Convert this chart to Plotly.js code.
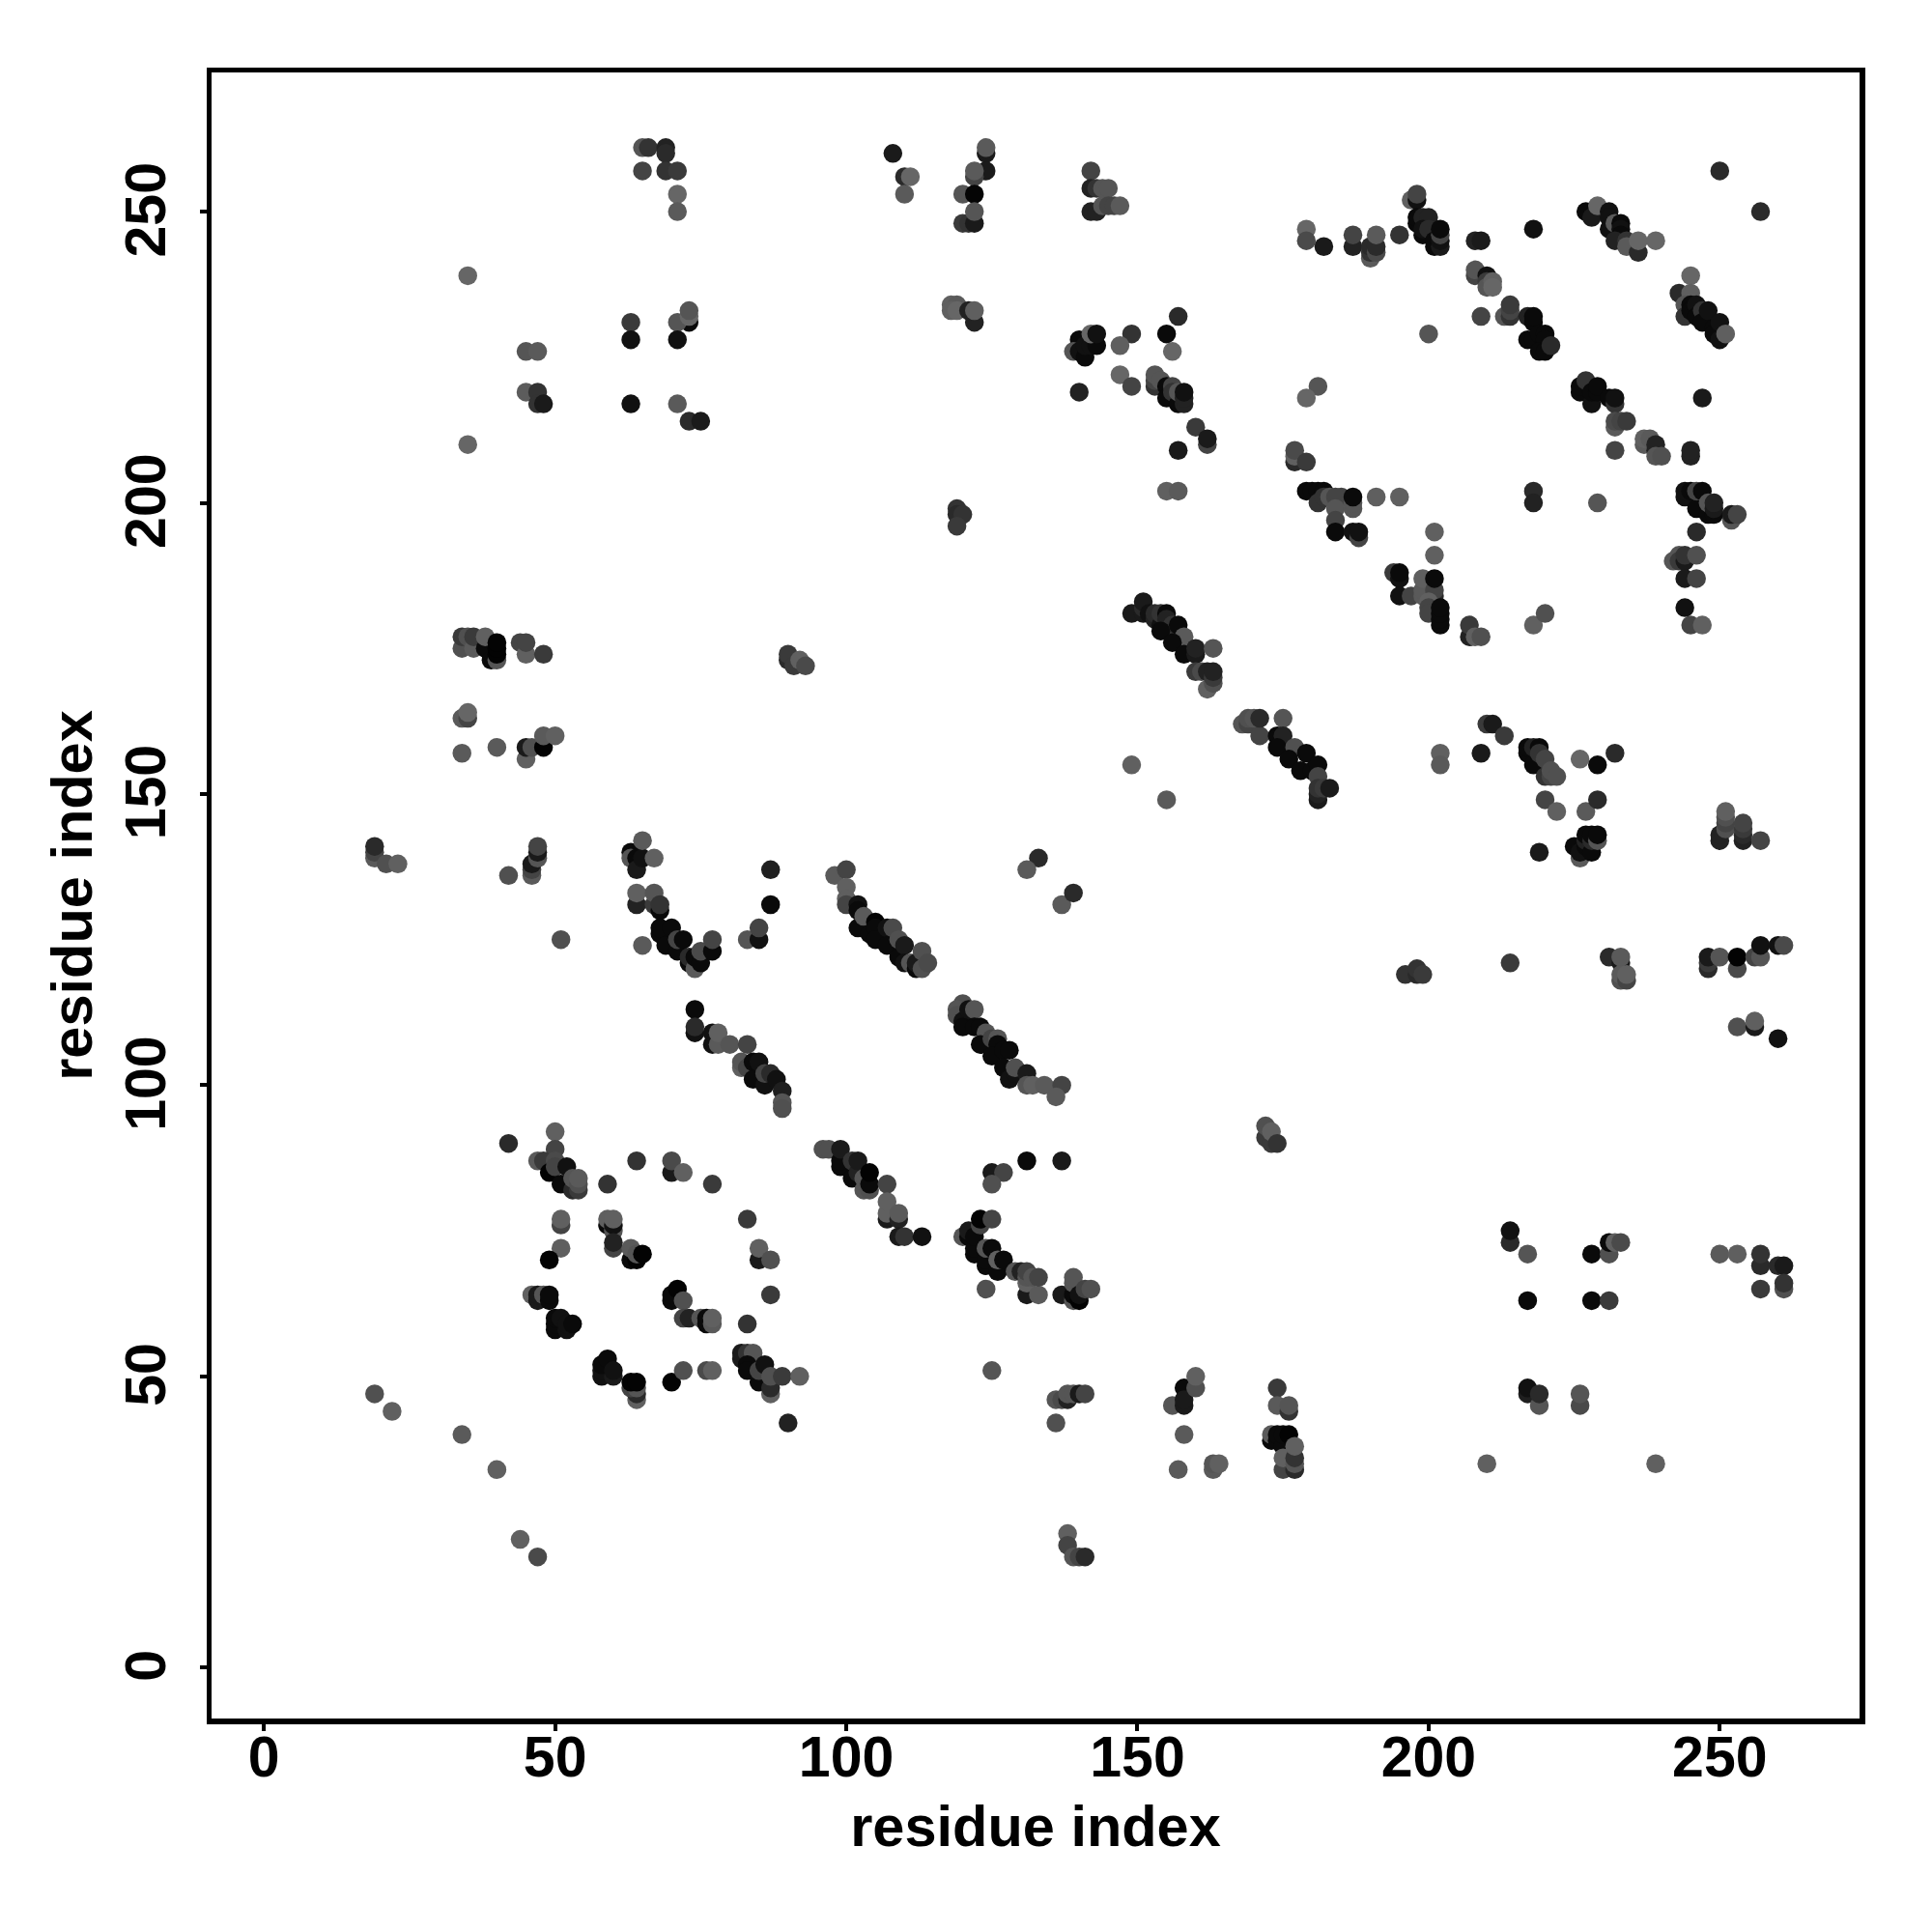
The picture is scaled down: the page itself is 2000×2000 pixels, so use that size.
<!DOCTYPE html>
<html>
<head>
<meta charset="utf-8">
<script src="https://cdn.plot.ly/plotly-3.0.1.min.js"></script>
<style>html,body{margin:0;padding:0;background:#fff}</style>
</head>
<body>
<div id="chart" style="width:2000px;height:2000px"></div>
<script>
// each row: residue i, residue j, contact level (grey value of the dot)
const upperLeft = [
[65,261,85],[66,261,51],[69,261,34],[69,260,42],[65,257,68],[69,257,51],[71,257,58],[71,253,102],[71,250,90],
[35,239,102],[63,231,58],[63,228,17],[73,231,10],[71,231,85],[73,232,102],[73,233,85],[71,228,17],
[45,226,85],[47,226,90],[45,219,92],[47,219,51],[47,217,51],[48,217,26],[63,217,17],[71,217,90],[73,214,42],[75,214,26],[35,210,102]
];
const upperMiddle = [
[108,260,26],[110,256,42],[111,256,102],[110,253,90],[124,260,26],[124,261,90],[124,257,26],[122,256,68],[122,257,90],
[120,253,85],[122,253,5],[120,248,58],[121,248,51],[122,248,26],[122,250,85],
[142,257,68],[142,254,34],[143,254,51],[144,254,85],[145,254,85],[142,250,34],[143,250,34],[144,251,85],[145,251,68],[146,251,68],[147,251,90],
[118,234,96],[119,234,90],[118,233,96],[119,233,102],[122,231,34],[121,233,34],[122,233,95],
[140,228,10],[139,226,85],[140,226,17],[141,225,10],[141,227,17],[142,227,17],[143,227,10],[142,229,102],[143,229,17],
[149,229,51],[147,227,95],[155,229,10],[157,232,42],[156,226,102],[147,222,102],[149,220,68],[140,219,34],
[153,220,51],[153,221,68],[153,222,85],[154,221,85],[155,220,10],[155,218,10],[156,220,68],[156,219,51],[157,217,10],[157,219,85],[158,217,34],[158,218,34],[158,219,17],
[160,213,58],[162,210,68],[162,211,26],[157,209,26],[155,202,96],[157,202,90],
[177,207,42],[177,208,96],[177,209,74],[179,207,58],[181,220,85],[179,218,102],
[119,199,51],[119,198,42],[120,198,51],[119,196,58]
];
const upperRight = [
[179,247,102],[179,245,74],[182,244,26],[187,244,34],[187,246,68],[190,242,90],[190,243,51],[190,244,42],[191,243,74],[191,244,42],[191,246,90],[195,246,51],
[197,252,96],[198,252,17],[198,253,68],[198,248,10],[198,249,10],[199,249,34],[200,249,34],[199,246,10],[199,247,17],[200,247,42],[201,244,10],[201,245,10],[202,244,26],[202,245,17],[202,246,68],[202,247,10],
[208,245,34],[209,245,26],[218,247,17],[208,239,68],[208,240,85],[210,239,17],[210,238,58],[210,237,85],[211,238,96],[211,237,102],
[209,232,68],[213,232,85],[214,232,51],[214,233,68],[214,234,58],[200,229,85],
[217,232,34],[218,231,10],[218,232,10],[217,228,10],[218,228,10],[219,229,10],[220,229,10],[220,228,10],[219,226,10],[220,226,10],[221,227,42],
[250,257,42],[257,250,42],
[227,250,10],[228,249,26],[229,251,102],[231,250,17],[231,249,17],[231,247,17],[232,248,90],[233,248,10],[233,247,17],[233,246,10],[232,245,34],[234,245,51],[234,244,90],[236,243,42],[236,245,102],[239,245,102],
[245,239,102],[243,236,42],[245,236,95],[244,234,85],[244,232,51],[245,234,10],[245,233,10],[246,234,17],[246,232,10],[247,233,51],[247,231,10],[248,233,17],[249,230,10],[249,229,10],[250,231,17],[250,228,17],[251,229,95],
[226,219,10],[226,220,10],[227,221,51],[228,217,17],[228,219,10],[229,219,10],[229,220,10],[231,218,10],[232,217,51],[232,218,17],
[232,213,90],[232,214,74],[233,214,68],[234,214,58],[237,210,90],[237,211,96],[238,211,90],[239,209,34],[239,210,34],[239,208,85],[240,208,80],[232,209,68],
[247,218,26],[245,208,34],[245,209,34],
[179,202,10],[180,202,10],[181,202,10],[182,202,10],[181,200,51],[182,201,51],[183,201,85],[185,201,68],[184,201,68],[184,199,85],[184,197,68],[184,195,10],[187,195,17],[188,194,68],[188,195,17],[187,199,85],[187,200,85],[187,201,10],[191,201,95],[195,201,96],
[218,202,42],[218,200,34],[229,200,85],
[244,201,17],[244,202,17],[245,202,10],[246,199,10],[246,202,68],[247,202,10],[248,198,10],[248,200,85],[249,198,10],[249,199,26],[249,200,34],[252,197,85],[252,198,26],[253,198,68],[246,195,42],
[242,190,85],[243,191,85],[243,190,58],[244,190,26],[244,191,51],[246,191,80],[244,187,26],[246,187,68],[244,182,17],[245,179,68],[247,179,96],
[201,195,96],[201,191,96],[194,188,58],[195,187,17],[195,188,10],[195,184,17],[197,184,68],[199,184,90],[199,185,90],[199,187,95],
[201,184,42],[201,185,68],[201,187,10],[200,183,96],[200,182,68],[200,181,68],[202,179,10],[202,180,10],[202,181,10],[202,182,10],
[207,177,34],[207,179,58],[208,177,96],[209,177,80],[218,179,96],[220,181,80]
];
const middleLeft = [
[34,175,80],[34,177,58],[35,177,80],[36,175,90],[36,177,58],[38,175,10],[38,177,96],[39,173,10],[40,173,85],[40,174,3],[40,175,3],[40,176,3],[44,176,68],[45,174,96],[45,176,68],[48,174,58],
[34,163,90],[35,163,68],[35,164,102],[34,157,90],[40,158,90],[45,156,96],[45,158,26],[46,158,80],[48,158,3],[48,160,90],[50,160,96],
[19,139,90],[19,140,68],[19,141,42],[21,138,80],[23,138,96],
[42,136,80],[46,136,90],[46,137,68],[46,138,26],[47,139,85],[47,140,26],[47,141,68],
[63,140,10],[63,139,85],[64,139,10],[64,137,26],[65,139,17],[65,142,90],[67,139,96],
[51,125,80],[65,124,90],[64,131,34],[64,133,96],[67,131,58],[67,133,85],[68,130,10],[68,131,51],
[68,126,10],[68,127,10],[69,124,10],[70,127,10],[71,123,10],[71,125,68],[72,125,10],[73,121,10],[73,122,42],[74,120,90],[74,122,10],[75,121,10],[75,123,74],[77,123,10],[77,125,68],
[83,125,85],[85,125,17],[85,127,68],[87,131,10],[87,137,31],
[74,113,10],[74,109,17],[74,110,42],[77,107,17],[77,109,17],[78,107,90],[78,109,96],[80,107,85],[83,107,68],
[82,103,96],[82,104,85],[83,103,68],[84,101,10],[84,104,10],[85,104,17],[86,100,17],[86,102,68],[87,102,42],[88,101,17],[89,99,31],[89,97,85],[89,96,80]
];
const middleCentre = [
[90,173,42],[90,174,58],[91,172,58],[92,173,96],[93,172,74],
[149,181,26],[151,181,26],[151,182,42],[151,183,26],[152,181,17],[153,180,34],[153,181,42],[154,179,17],[154,181,51],[155,181,10],[155,180,34],[156,179,51],[157,179,10],[154,178,10],[158,177,90],
[156,176,10],[158,174,10],[160,174,26],[160,175,34],[163,175,85],[160,171,58],[161,171,74],[162,171,34],[162,168,96],[163,169,80],[163,170,58],[163,171,34],
[168,162,85],[169,162,68],[169,163,80],[170,163,85],[171,160,68],[171,163,42],[175,163,85],[174,160,10],[175,160,34],[174,158,10],[177,158,80],[176,156,10],[179,157,10],[178,154,10],[180,154,10],[181,155,10],[181,153,68],[181,149,26],[181,150,34],[181,151,51],[182,151,58],[183,151,26],
[149,155,96],[155,149,90],[133,139,42],[131,137,90],[137,131,90],[139,133,42],
[98,136,90],[100,137,68],[100,134,96],[100,132,95],[100,131,68],[102,131,17],[102,130,10],[102,127,10],[103,129,90],[104,126,10],[105,128,3],[105,127,10],[105,125,10],[107,127,17],[108,127,74],[107,124,10],[109,125,80],[109,122,10],[110,124,26],[110,121,17],[111,121,85],[112,120,10],[112,121,26],[113,120,80],[113,123,80],[114,121,74],
[120,114,80],[119,113,85],[119,112,80],[120,111,17],[120,110,10],[121,113,17],[122,113,85],[122,110,10],[123,110,10],[124,109,85],[123,107,10],[125,108,68],[126,108,85],[126,107,10],[125,105,10],[127,106,10],[128,106,10],[127,103,10],[128,101,17],[129,102,17],[129,103,80],[131,102,26],[131,100,85],[132,100,96],[134,100,90],[137,100,68],[136,98,90],
[172,91,58],[172,93,80],[173,90,58],[173,92,96],[174,90,51]
];
const middleRight = [
[210,162,58],[211,162,26],[213,160,58],[209,157,26],[202,157,96],[202,155,90],
[217,157,10],[217,158,10],[218,155,10],[218,158,34],[219,158,10],[219,157,51],[220,156,68],[220,153,51],[221,153,68],[221,154,80],[222,153,80],
[226,156,102],[229,155,10],[232,157,42],[220,149,68],[222,147,96],[227,147,90],[229,149,42],
[219,140,26],[225,141,10],[226,139,90],[226,140,17],[227,141,10],[227,142,34],[227,143,10],[228,140,10],[228,142,42],[228,143,10],[229,142,85],[229,143,10],
[250,142,34],[250,143,34],[251,144,80],[251,145,68],[251,146,80],[251,147,96],[254,142,34],[254,143,42],[254,144,58],[254,145,68],[257,142,68],
[231,122,42],[233,121,26],[233,122,90],[233,118,80],[233,119,90],[234,118,68],[234,119,96],
[196,119,51],[198,119,42],[198,120,51],[199,119,58],[214,121,58],
[248,120,42],[248,121,58],[248,122,26],[250,122,85],[253,120,74],[253,122,3],[256,122,68],[257,122,85],[257,124,17],[260,124,17],[261,124,74],
[253,110,80],[256,110,26],[256,111,95],[260,108,17]
];
const lowerLeft = [
[19,47,80],[22,44,96],[34,40,90],[40,34,96],[44,22,96],[47,19,74],[42,90,42],
[50,92,96],[50,89,68],[47,87,90],[48,87,58],[50,87,74],[49,85,3],[50,86,68],[52,86,17],[51,83,10],[53,82,42],[53,84,85],[54,82,58],[54,83,80],[54,84,90],
[59,83,51],[64,87,51],[70,85,26],[70,87,74],[72,85,96],[77,83,58],
[51,76,68],[51,77,96],[51,72,95],[49,70,3],
[59,76,10],[59,77,95],[60,75,85],[60,76,17],[60,77,96],[60,72,68],[60,73,34],[63,70,10],[63,72,90],[64,70,3],[64,71,85],[65,71,3],
[83,77,58],[85,70,26],[85,72,96],[87,70,80],[87,64,58],
[46,64,96],[47,63,26],[47,64,26],[48,64,85],[49,63,10],[49,64,10],[50,58,10],[50,59,10],[50,60,10],[51,60,17],[52,58,17],[52,59,17],[53,59,10],
[70,63,10],[70,64,10],[71,65,3],[72,63,80],[72,60,68],[73,60,34],[75,60,85],[76,59,10],[76,60,10],[77,59,90],[77,60,96],[83,59,51],
[58,50,17],[58,51,17],[58,52,10],[59,53,10],[60,50,26],[60,51,17],
[64,46,96],[64,47,42],[63,48,68],[64,48,85],[63,49,3],[64,49,3],
[70,49,3],[72,51,80],[76,51,74],[77,51,96],
[82,53,26],[82,54,26],[83,54,51],[84,54,85],[83,52,10],[83,51,10],[85,49,10],[85,51,68],[86,52,17],[87,47,96],[87,48,42],[87,50,80],[89,50,58],[92,50,96],[90,42,34]
];
const lowerMiddle = [
[96,89,80],[97,89,80],[99,86,10],[99,87,10],[99,89,26],[101,84,10],[101,87,51],[102,85,34],[102,87,26],[103,82,85],[103,84,85],[104,82,80],[104,83,10],[104,85,3],[107,83,68],
[125,85,26],[127,85,68],[125,83,80],[131,87,10],[137,87,26],
[107,77,26],[107,78,96],[107,80,96],[109,77,34],[109,78,90],[109,74,26],[110,74,51],[113,74,17],
[124,65,80],[120,74,85],[121,74,10],[121,75,26],[122,71,10],[122,72,10],[122,74,10],[123,76,68],[123,77,3],[125,77,68],
[124,69,10],[124,70,10],[124,72,85],[125,72,10],[126,68,10],[126,70,96],[127,70,10],[129,68,85],[130,68,34],[131,64,26],[131,66,96],[131,67,85],[131,68,68],[132,67,85],[133,64,90],[133,67,68],
[137,64,26],[139,63,85],[139,64,10],[139,66,85],[139,67,85],[140,63,3],[140,64,17],[141,65,68],[142,65,80],
[125,51,85],[136,42,80],[136,46,85],[137,46,74],[138,46,34],[138,47,85],[139,47,85],[140,47,26],[141,47,68],
[138,23,96],[138,21,68],[139,19,85],[140,19,68],[141,19,42],
[156,45,85],[158,45,26],[158,48,10],[158,46,26],[160,48,80],[160,50,96],[158,40,90],[157,34,90],[163,34,90],[163,35,85],[164,35,96],
[174,48,58],[174,45,90],[176,44,51],[176,45,85],
[173,39,10],[173,40,90],[174,39,10],[174,40,10],[175,38,10],[175,40,10],[176,40,3],[175,34,68],[175,36,96],[177,34,42],[177,35,85],[177,36,51],[177,38,96]
];
const lowerRight = [
[210,35,96],[239,35,96],[214,73,42],[214,75,17],[217,71,85],[228,71,10],[231,71,80],[231,73,10],[232,73,96],[233,73,74],
[217,63,10],[228,63,10],[231,63,58],
[217,47,31],[217,48,17],[219,45,85],[219,47,42],[226,45,74],[226,47,85],
[250,71,90],[253,71,95],[257,69,42],[257,71,51],[260,69,42],[261,69,26],[257,65,58],[261,65,80],[261,66,51]
];

const contacts = [...upperLeft, ...upperMiddle, ...upperRight, ...middleLeft, ...middleCentre, ...middleRight, ...lowerLeft, ...lowerMiddle, ...lowerRight];
const tickValues = [0, 50, 100, 150, 200, 250];
const axisLabel = "residue index";

const family = '"Liberation Sans", Arial, sans-serif';
function axis(range, standoff, angle, labelOffset) {
  return {
    range: range, tickvals: tickValues, ticktext: tickValues.map(String), tickmode: 'array',
    ticks: 'outside', ticklen: 7, tickwidth: 4, tickcolor: '#000',
    showline: true, mirror: true, linewidth: 5.5, linecolor: '#000',
    showgrid: false, zeroline: false, tickangle: angle,
    ticklabelstandoff: labelOffset,
    tickfont: {family: family, size: 59, color: '#000', weight: 700},
    title: {text: axisLabel, standoff: standoff, font: {family: family, size: 59.5, color: '#000', weight: 700}}
  };
}
Plotly.newPlot('chart', [{
  type: 'scatter', mode: 'markers',
  x: contacts.map(r => r[0]), y: contacts.map(r => r[1]),
  marker: {size: 19.5, color: contacts.map(r => r[2]), cmin: 0, cmax: 255,
           colorscale: [[0, '#000'], [1, '#fff']], showscale: false, line: {width: 0}},
  hoverinfo: 'skip'
}], {
  width: 2000, height: 2000, autosize: false, showlegend: false,
  paper_bgcolor: '#fff', plot_bgcolor: '#fff',
  margin: {l: 219, r: 75, t: 75, b: 221, pad: 0},
  xaxis: axis([-9.0, 274.0], 20, 0, -23),
  yaxis: axis([-8.75, 273.9], 5, -90, 12)
}, {staticPlot: true, displayModeBar: false}).then(function () {
  // centre the rotated y tick labels on their ticks
  document.querySelectorAll('#chart .ytick text').forEach(function (el) {
    el.setAttribute('transform', 'translate(0,7) ' + (el.getAttribute('transform') || ''));
  });
});
</script>
</body>
</html>
